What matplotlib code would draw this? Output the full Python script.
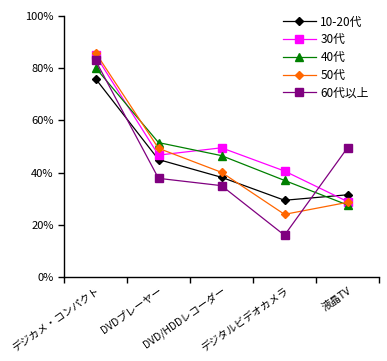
import matplotlib
matplotlib.use("Agg")
import matplotlib.pyplot as plt
from matplotlib.ticker import FixedLocator, PercentFormatter

plt.rcParams['font.family'] = ['Noto Sans CJK JP', 'DejaVu Sans']

categories = ["デジカメ・コンパクト", "DVDプレーヤー", "DVD/HDDレコーダー", "デジタルビデオカメラ", "液晶TV"]
series_names = ["10-20代", "30代", "40代", "50代", "60代以上"]
v_10_20 = [76, 45, 38.2, 29.4, 31.5]
v_30 = [85, 46.7, 49.5, 40.6, 28.9]
v_40 = [80.2, 51.5, 46.5, 37, 27.6]
v_50 = [86, 49.3, 40.1, 24, 28.6]
v_60 = [83, 37.8, 35, 16, 49.5]
values = [v_10_20, v_30, v_40, v_50, v_60]
colors = ["#000000", "#FF00FF", "#008000", "#FF6600", "#800080"]
markers = ["D", "s", "^", "D", "s"]
msizes = [4, 6, 6, 4.5, 6]

fig = plt.figure(figsize=(3.87, 3.61), dpi=100)
ax = fig.add_axes([64/387, 1-277/361, (379-64)/387, (277-16)/361])
x = list(range(len(categories)))
for name, v, c, m, ms in zip(series_names, values, colors, markers, msizes):
    ax.plot(x, v, color=c, marker=m, markersize=ms, linewidth=0.9, label=name,
            markeredgecolor=c, markerfacecolor=c)

ax.set_xlim(-0.5, 4.5)
ax.set_ylim(0, 100)
ax.set_yticks([0, 20, 40, 60, 80, 100])
ax.yaxis.set_major_formatter(PercentFormatter(decimals=0))
ax.set_xticks(x)
ax.set_xticklabels(categories, rotation=35, ha='right', rotation_mode='anchor', fontsize=7.5)
ax.xaxis.set_minor_locator(FixedLocator([-0.5, 0.5, 1.5, 2.5, 3.5, 4.5]))
ax.tick_params(axis='x', which='major', length=0, pad=6)
ax.tick_params(axis='x', which='minor', length=4, width=1, color='black')
ax.tick_params(axis='y', length=4, width=1, labelsize=8)
for s in ['top', 'right']:
    ax.spines[s].set_visible(False)
for s in ['left', 'bottom']:
    ax.spines[s].set_linewidth(1)
    ax.spines[s].set_color('black')

ax.legend(loc='upper left', bbox_to_anchor=(272/387, 1-5/361), bbox_transform=fig.transFigure,
          frameon=False, fontsize=8.5, handlelength=2.8, labelspacing=0.4, handletextpad=0.4)

fig.savefig("out.png", dpi=100)
